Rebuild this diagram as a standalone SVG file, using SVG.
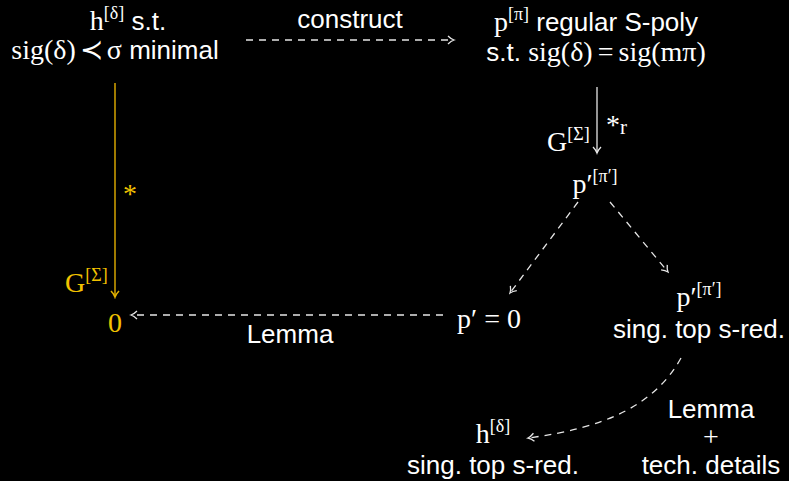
<svg xmlns="http://www.w3.org/2000/svg" width="789" height="481" viewBox="0 0 789 481">
<style>
.sans{font-family:"Liberation Sans",Arial,sans-serif;font-size:26px;fill:#ffffff}
.math{font-family:"Liberation Serif","Times New Roman",serif;font-size:28px;fill:#ffffff}
.sup{font-size:18px}
.y{fill:#f2c200}
.c{stroke:#e6e6e6;stroke-width:1.3;fill:none}
.d{stroke-dasharray:7 6}
.yl{stroke:#c89a00;stroke-width:1.6;fill:none}
</style>
<defs>
<marker id="ah" viewBox="-8 -6 10 12" markerWidth="10" markerHeight="12" refX="0" refY="0" orient="auto" markerUnits="userSpaceOnUse">
<path d="M-6,-4 Q-3,-1 0,0 Q-3,1 -6,4" fill="none" stroke="#e6e6e6" stroke-width="1.3"/>
</marker>
<marker id="ahy" viewBox="-8 -6 10 12" markerWidth="10" markerHeight="12" refX="0" refY="0" orient="auto" markerUnits="userSpaceOnUse">
<path d="M-6,-4 Q-3,-1 0,0 Q-3,1 -6,4" fill="none" stroke="#e0b000" stroke-width="1.6"/>
</marker>
</defs>
<rect width="789" height="481" fill="#000000"/>

<g id="connectors">
<line class="c d" x1="246" y1="40" x2="454" y2="40" marker-end="url(#ah)"/>
<line class="c" x1="597" y1="87" x2="597" y2="153" marker-end="url(#ah)"/>
<line class="c d" x1="610" y1="202" x2="668" y2="272" marker-end="url(#ah)"/>
<line class="c d" x1="578" y1="202" x2="510" y2="293" marker-end="url(#ah)"/>
<line class="c d" x1="443" y1="315" x2="131" y2="315" marker-end="url(#ah)"/>
<line class="yl" x1="115" y1="83" x2="115" y2="297" marker-end="url(#ahy)"/>
<path class="c d" d="M681,358 C655,405 605,428 528,438" marker-end="url(#ah)"/>
</g>

<g id="n_h">
<text class="math" x="128" y="30" text-anchor="middle">h<tspan class="sup" dy="-11">[δ]</tspan><tspan class="sans" dy="11"> s.t.</tspan></text>
<text class="math" x="115" y="59" text-anchor="middle">sig(δ)<tspan dx="4">≺</tspan><tspan dx="4">σ</tspan><tspan class="sans"> minimal</tspan></text>
</g>

<g id="l_construct">
<text class="sans" x="350" y="28" text-anchor="middle">construct</text>
</g>

<g id="n_p">
<text class="math" x="596" y="31" text-anchor="middle">p<tspan class="sup" dy="-11">[π]</tspan><tspan class="sans" dy="11"> regular S-poly</tspan></text>
<text class="math" x="596" y="61" text-anchor="middle"><tspan class="sans">s.t. </tspan>sig(δ)<tspan dx="5">=</tspan><tspan dx="5">sig(mπ)</tspan></text>
</g>

<g id="l_G1">
<text class="math" x="547" y="151">G<tspan class="sup" dy="-11">[Σ]</tspan></text>
<text class="math" x="606" y="134" font-size="32">*<tspan font-size="21" dy="0">r</tspan></text>
</g>

<g id="n_p1">
<text class="math" x="595" y="193" text-anchor="middle">p′<tspan class="sup" dy="-11">[π′]</tspan></text>
</g>

<g id="n_p2">
<text class="math" x="699" y="306" text-anchor="middle">p′<tspan class="sup" dy="-11">[π′]</tspan></text>
<text class="sans" x="699" y="338" text-anchor="middle">sing. top s-red.</text>
</g>

<g id="n_p0">
<text class="math" x="489" y="328" text-anchor="middle">p′<tspan dx="7">=</tspan><tspan dx="7">0</tspan></text>
</g>

<g id="l_lemma1">
<text class="sans" x="290" y="343" text-anchor="middle">Lemma</text>
</g>

<g id="n_zero">
<text class="math y" x="115" y="332" text-anchor="middle">0</text>
</g>

<g id="l_G2">
<text class="math y" x="65" y="292">G<tspan class="sup" dy="-11">[Σ]</tspan></text>
<text class="math y" x="123" y="203" font-size="32">*</text>
</g>

<g id="n_h2">
<text class="math" x="493" y="443" text-anchor="middle">h<tspan class="sup" dy="-11">[δ]</tspan></text>
<text class="sans" x="493" y="474" text-anchor="middle">sing. top s-red.</text>
</g>

<g id="l_lemma2">
<text class="sans" x="711" y="418" text-anchor="middle">Lemma</text>
<text class="math" x="711" y="446" text-anchor="middle" font-size="30">+</text>
<text class="sans" x="711" y="474" text-anchor="middle">tech. details</text>
</g>
</svg>
